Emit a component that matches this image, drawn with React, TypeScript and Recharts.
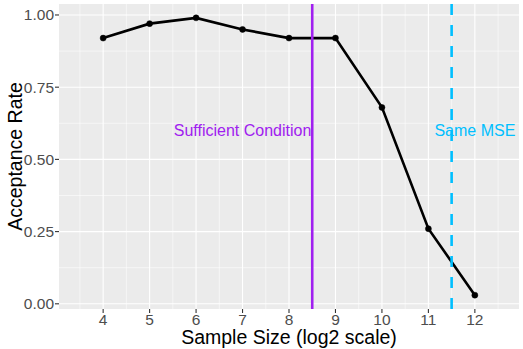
import {
  LineChart,
  Line,
  XAxis,
  YAxis,
  CartesianGrid,
  ReferenceLine,
  ReferenceDot,
} from "recharts";

const sampleSizes = [4, 5, 6, 7, 8, 9, 10, 11, 12];
const acceptance = [0.92, 0.97, 0.99, 0.95, 0.92, 0.92, 0.68, 0.26, 0.03];
const xTicks = [4, 5, 6, 7, 8, 9, 10, 11, 12];
const xMinor = [3.5, 4.5, 5.5, 6.5, 7.5, 8.5, 9.5, 10.5, 11.5, 12.5];
const yTicks = [0, 0.25, 0.5, 0.75, 1];
const yMinor = [0.125, 0.375, 0.625, 0.875];

const sufficientX = 8.5;
const sameMseX = 11.5;
const annotations = [
  { x: 7, y: 0.6, text: "Sufficient Condition", color: "#A020F0" },
  { x: 12, y: 0.6, text: "Same MSE", color: "#00BFFF" },
];

const data = sampleSizes.map((x, i) => ({ x, y: acceptance[i] }));

const FONT = '"Liberation Sans", Arial, Helvetica, sans-serif';
const tickStyle = { fill: "#4D4D4D", fontSize: 15.5, fontFamily: FONT };

export default function App() {
  return (
    <div style={{ position: "fixed", left: 0, top: 0, background: "#fff" }}>
      <LineChart
        width={523}
        height={349}
        data={data}
        margin={{ top: 4, right: 4, left: 0, bottom: 0 }}
      >
        <CartesianGrid
          fill="#EBEBEB"
          stroke="#FFFFFF"
          strokeWidth={0.55}
          horizontalValues={yMinor}
          verticalValues={xMinor}
        />
        <CartesianGrid
          stroke="#FFFFFF"
          strokeWidth={1.1}
          horizontalValues={yTicks}
          verticalValues={xTicks}
        />
        <XAxis
          dataKey="x"
          type="number"
          domain={[3.05, 12.95]}
          ticks={xTicks}
          allowDataOverflow
          height={40}
          axisLine={false}
          tickSize={4}
          tickMargin={1}
          tickLine={{ stroke: "#333333", strokeWidth: 1.1 }}
          tick={tickStyle}
          label={{
            value: "Sample Size (log2 scale)",
            position: "center",
            dy: 8,
            fill: "#000",
            fontSize: 19.5,
            fontFamily: FONT,
          }}
        />
        <YAxis
          type="number"
          domain={[-0.018, 1.038]}
          ticks={yTicks}
          allowDataOverflow
          width={59}
          axisLine={false}
          tickSize={4}
          tickMargin={1}
          tickLine={{ stroke: "#333333", strokeWidth: 1.1 }}
          tick={tickStyle}
          tickFormatter={(v: number) => v.toFixed(2)}
          label={{
            value: "Acceptance Rate",
            angle: -90,
            position: "center",
            dx: -14,
            fill: "#000",
            fontSize: 19.5,
            fontFamily: FONT,
          }}
        />
        <Line
          dataKey="y"
          stroke="#000"
          strokeWidth={2.6}
          dot={{ r: 3, fill: "#000", stroke: "#000", strokeWidth: 0.5 }}
          isAnimationActive={false}
        />
        <ReferenceLine x={sufficientX} stroke="#A020F0" strokeWidth={2.6} />
        <ReferenceLine
          x={sameMseX}
          stroke="#00BFFF"
          strokeWidth={2.6}
          strokeDasharray="11 10"
        />
        {annotations.map((a) => (
          <ReferenceDot
            key={a.text}
            x={a.x}
            y={a.y}
            r={0}
            fill="none"
            stroke="none"
            label={{
              value: a.text,
              position: "center",
              fill: a.color,
              fontSize: 16,
              fontFamily: FONT,
            }}
          />
        ))}
      </LineChart>
    </div>
  );
}
